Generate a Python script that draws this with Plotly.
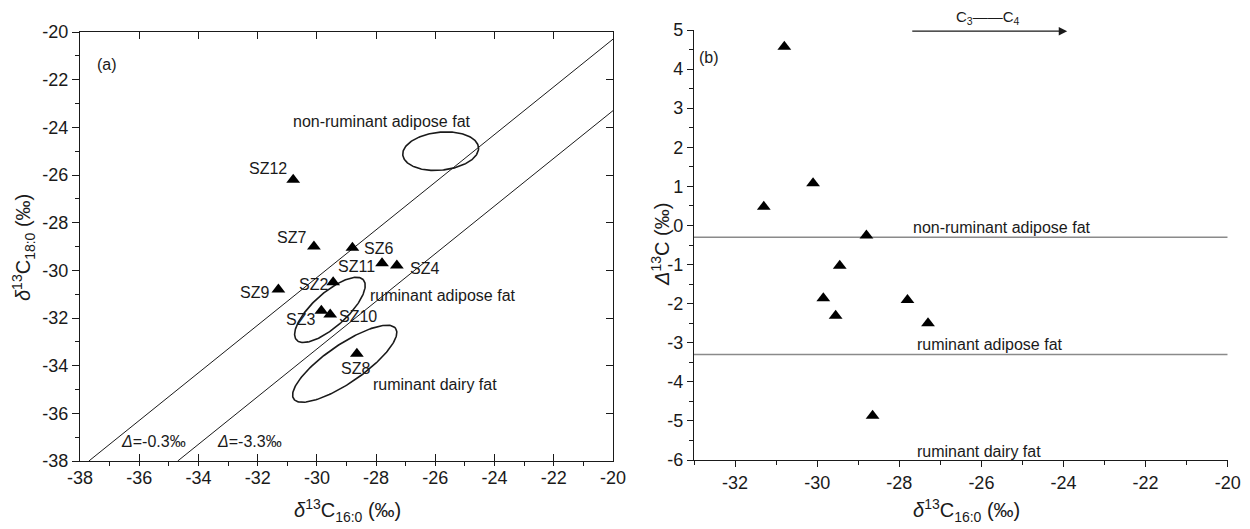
import numpy as np
import plotly.graph_objects as go

# ---------------- data ----------------
samples = ["SZ12", "SZ7", "SZ9", "SZ6", "SZ2", "SZ3", "SZ10", "SZ8", "SZ11", "SZ4"]
d13c_16 = [-30.8, -30.1, -31.3, -28.8, -29.45, -29.85, -29.55, -28.65, -27.8, -27.3]
d13c_18 = [-26.2, -29.0, -30.8, -29.05, -30.5, -31.7, -31.85, -33.5, -29.7, -29.8]
big_delta = [4.57, 1.08, 0.48, -0.26, -1.03, -1.86, -2.31, -4.87, -1.91, -2.5]

ref_deltas = [-0.3, -3.3]
ref_delta_labels = ["<i>Δ</i>=-0.3‰", "<i>Δ</i>=-3.3‰"]
fat_names = ["non-ruminant adipose fat", "ruminant adipose fat", "ruminant dairy fat"]

# ellipses (center x, center y, axis vector 1 (dx,dy), axis vector 2 (dx,dy)) in data units
ellipse_params = [
    (-25.82, -25.0, (1.28, 0.12), (0.0, 0.80)),
    (-29.56, -31.66, (1.13, 1.26), (0.38, -0.53)),
    (-29.06, -33.92, (1.72, 1.48), (0.37, -0.65)),
]

ticks_a = list(range(-38, -19, 2))
ticks_bx = list(range(-32, -19, 2))
ticks_by = list(range(-6, 6))

FONT = "Liberation Sans, Arial, sans-serif"
BLACK = "#1a1a1a"

fig = go.Figure()

# ---------------- panel (a) ----------------
for d in ref_deltas:
    x0 = max(-38, -38 - d)
    x1 = min(-20, -20 - d)
    fig.add_trace(go.Scatter(x=[x0, x1], y=[x0 + d, x1 + d], mode="lines",
                             line=dict(color=BLACK, width=1), xaxis="x", yaxis="y",
                             showlegend=False, hoverinfo="skip"))

t = np.linspace(0, 2 * np.pi, 200)
for cx, cy, (ax1, ay1), (ax2, ay2) in ellipse_params:
    ex = cx + ax1 * np.cos(t) + ax2 * np.sin(t)
    ey = cy + ay1 * np.cos(t) + ay2 * np.sin(t)
    fig.add_trace(go.Scatter(x=ex, y=ey, mode="lines", line=dict(color=BLACK, width=1.6),
                             xaxis="x", yaxis="y", showlegend=False, hoverinfo="skip"))

fig.add_trace(go.Scatter(x=d13c_16, y=d13c_18, mode="markers", text=samples,
                         marker=dict(symbol="triangle-up", size=12, color="black"),
                         xaxis="x", yaxis="y", showlegend=False))

# dummy trace for mirrored top/right axes
fig.add_trace(go.Scatter(x=[None], y=[None], xaxis="x3", yaxis="y3", showlegend=False))

# ---------------- panel (b) ----------------
for d in ref_deltas:
    fig.add_trace(go.Scatter(x=[-33, -20], y=[d, d], mode="lines",
                             line=dict(color="#8a8a8a", width=1.5), xaxis="x2", yaxis="y2",
                             showlegend=False, hoverinfo="skip"))
fig.add_trace(go.Scatter(x=d13c_16, y=big_delta, mode="markers", text=samples,
                         marker=dict(symbol="triangle-up", size=12, color="black"),
                         xaxis="x2", yaxis="y2", showlegend=False))

# ---------------- annotations ----------------
ann = []
label_offsets = {
    "SZ12": (-25, -11), "SZ7": (-22, -9), "SZ6": (26, 1), "SZ11": (-26, 3),
    "SZ4": (28, 3), "SZ9": (-24, 3), "SZ2": (-20, 2), "SZ3": (-21, 9),
    "SZ10": (28, 2), "SZ8": (-1, 15),
}
for name, xv, yv in zip(samples, d13c_16, d13c_18):
    dx, dy = label_offsets[name]
    ann.append(dict(x=xv, y=yv, xref="x", yref="y", text=name, showarrow=False,
                    xshift=dx, yshift=-dy, font=dict(size=16, family=FONT, color=BLACK)))

afont = dict(size=16, family=FONT, color=BLACK)
tfont = dict(size=20, family=FONT, color=BLACK)
ann += [
    dict(x=-27.8, y=-23.76, xref="x", yref="y", text=fat_names[0], showarrow=False, font=afont),
    dict(x=-28.26, y=-31.06, xref="x", yref="y", text=fat_names[1], showarrow=False,
         xanchor="left", font=afont),
    dict(x=-28.17, y=-34.77, xref="x", yref="y", text=fat_names[2], showarrow=False,
         xanchor="left", font=afont),
    dict(x=-35.53, y=-37.18, xref="x", yref="y", text=ref_delta_labels[0], showarrow=False, font=afont),
    dict(x=-32.26, y=-37.18, xref="x", yref="y", text=ref_delta_labels[1], showarrow=False, font=afont),
    dict(x=-37.09, y=-21.38, xref="x", yref="y", text="(a)", showarrow=False, font=afont),
    dict(x=-32.63, y=4.30, xref="x2", yref="y2", text="(b)", showarrow=False, font=afont),
    dict(x=-25.5, y=ref_deltas[0], xref="x2", yref="y2", text=fat_names[0], showarrow=False,
         yshift=10, font=afont),
    dict(x=-25.8, y=ref_deltas[1], xref="x2", yref="y2", text=fat_names[1], showarrow=False,
         yshift=10, font=afont),
    dict(x=-26.05, y=-5.77, xref="x2", yref="y2", text=fat_names[2], showarrow=False, font=afont),
    dict(x=-23.91, y=4.97, ax=-27.72, ay=4.97, xref="x2", yref="y2", axref="x2", ayref="y2",
         text="", showarrow=True, arrowhead=2, arrowsize=1.3, arrowwidth=1.3, arrowcolor=BLACK),
    dict(x=-25.85, y=1 - 18 / 529, xref="x2", yref="paper", xanchor="center", yanchor="middle",
         text="C<sub>3</sub>——C<sub>4</sub>",
         showarrow=False, font=dict(size=15, family=FONT, color=BLACK)),
    # axis titles
    dict(x=347 / 1250, y=1 - 510 / 529, xref="paper", yref="paper", xanchor="center",
         yanchor="middle", text="<i>δ</i><sup>13</sup>C<sub>16:0</sub> (‰)", showarrow=False,
         font=tfont),
    dict(x=966 / 1250, y=1 - 510 / 529, xref="paper", yref="paper", xanchor="center",
         yanchor="middle", text="<i>δ</i><sup>13</sup>C<sub>16:0</sub> (‰)", showarrow=False,
         font=tfont),
    dict(x=23 / 1250, y=1 - 248 / 529, xref="paper", yref="paper", textangle=-90,
         xanchor="center", yanchor="middle",
         text="<i>δ</i><sup>13</sup>C<sub>18:0</sub> (‰)", showarrow=False, font=tfont),
    dict(x=660 / 1250, y=1 - 245 / 529, xref="paper", yref="paper", textangle=-90,
         xanchor="center", yanchor="middle",
         text="<i>Δ</i><sup>13</sup>C (‰)", showarrow=False, font=tfont),
]

tickfont = dict(size=18, family=FONT, color=BLACK)
common = dict(showgrid=False, zeroline=False, showline=True, linecolor=BLACK, linewidth=1.3,
              tickcolor=BLACK, tickwidth=1.2, tickfont=tickfont, automargin=False)


def labels(vals):
    return [str(v) for v in vals]


dom_ax = [80 / 1250, 613 / 1250]
dom_ay = [68 / 529, 497 / 529]
dom_bx = [694 / 1250, 1227.7 / 1250]
dom_by = [69 / 529, 499 / 529]

fig.update_layout(
    width=1250, height=529,
    margin=dict(l=0, r=0, t=0, b=0),
    paper_bgcolor="white", plot_bgcolor="white",
    showlegend=False,
    annotations=ann,
    xaxis=dict(domain=dom_ax, anchor="y", range=[-38, -20], tickvals=ticks_a,
               ticktext=labels(ticks_a), ticks="inside", ticklen=7,
               minor=dict(dtick=1, tick0=-37, ticks="outside", ticklen=4, tickcolor=BLACK),
               **common),
    yaxis=dict(domain=dom_ay, anchor="x", range=[-38, -20], tickvals=ticks_a,
               ticktext=labels(ticks_a), ticks="outside", ticklen=7,
               minor=dict(dtick=1, tick0=-37, ticks="outside", ticklen=4, tickcolor=BLACK),
               **common),
    xaxis3=dict(overlaying="x", anchor="y", side="top", range=[-38, -20], tickvals=ticks_a,
                ticks="inside", ticklen=7, showticklabels=False, **common),
    yaxis3=dict(overlaying="y", anchor="x", side="right", range=[-38, -20], tickvals=ticks_a,
                ticks="inside", ticklen=7, showticklabels=False, **common),
    xaxis2=dict(domain=dom_bx, anchor="y2", range=[-33, -20], tickvals=ticks_bx,
                ticktext=labels(ticks_bx), ticks="outside", ticklen=6,
                minor=dict(dtick=1, tick0=-33, ticks="outside", ticklen=4, tickcolor=BLACK),
                **common),
    yaxis2=dict(domain=dom_by, anchor="x2", range=[-6, 5], tickvals=ticks_by,
                ticktext=labels(ticks_by), ticks="outside", ticklen=6,
                minor=dict(dtick=0.5, tick0=-6, ticks="outside", ticklen=4, tickcolor=BLACK),
                **common),
)

fig.write_html("out.html", config={"displayModeBar": False},
               post_script="document.body.style.margin='0';")
